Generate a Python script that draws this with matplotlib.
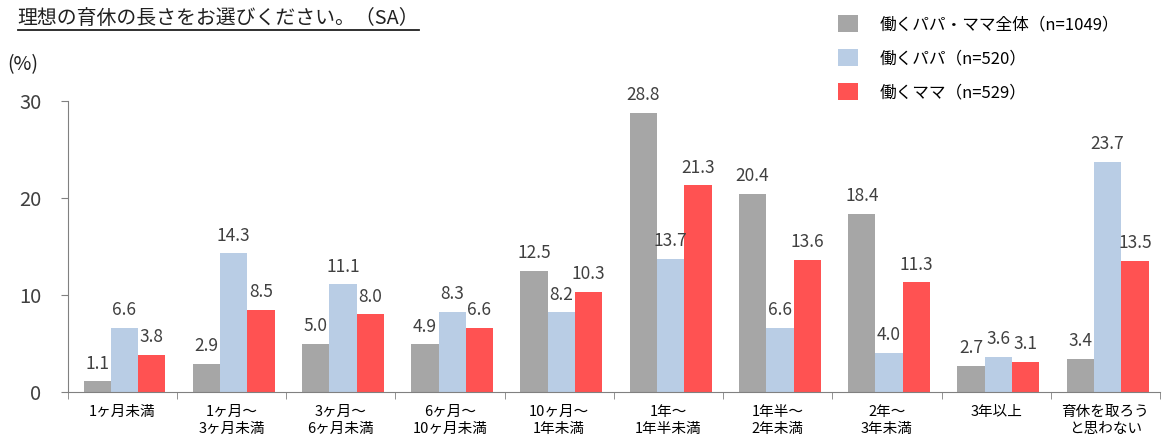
import numpy as np
import matplotlib.pyplot as plt
from matplotlib.lines import Line2D
from matplotlib.patches import Patch

plt.rcParams['font.family'] = ['Noto Sans CJK JP', 'DejaVu Sans']

categories = ['1ヶ月未満', '1ヶ月～\n3ヶ月未満', '3ヶ月～\n6ヶ月未満', '6ヶ月～\n10ヶ月未満',
              '10ヶ月～\n1年未満', '1年～\n1年半未満', '1年半～\n2年未満', '2年～\n3年未満',
              '3年以上', '育休を取ろう\nと思わない']
all_parents = [1.1, 2.9, 5.0, 4.9, 12.5, 28.8, 20.4, 18.4, 2.7, 3.4]
papa = [6.6, 14.3, 11.1, 8.3, 8.2, 13.7, 6.6, 4.0, 3.6, 23.7]
mama = [3.8, 8.5, 8.0, 6.6, 10.3, 21.3, 13.6, 11.3, 3.1, 13.5]
series_names = ['働くパパ・ママ全体（n=1049）', '働くパパ（n=520）', '働くママ（n=529）']
colors = ['#A6A6A6', '#B9CDE5', '#FF5252']

fig = plt.figure(figsize=(11.67, 4.47), dpi=100)
ax = fig.add_axes([0.058, 0.123, 0.936, 0.651])

x = np.arange(len(categories))
w = 0.25
for i, (vals, c) in enumerate(zip([all_parents, papa, mama], colors)):
    pos = x + (i - 1) * w + 0.02
    ax.bar(pos, vals, width=w, color=c)
    for p, v in zip(pos, vals):
        ax.text(p, v + 0.9, f'{v:.1f}', ha='center', va='bottom', fontsize=12.5, color='#404040')

ax.set_xlim(-0.5, len(categories) - 0.5)
ax.set_ylim(0, 30)
ax.set_yticks([0, 10, 20, 30])
ax.tick_params(axis='y', labelsize=14.5, colors='#808080', labelcolor='#404040', length=5, pad=14)
ax.set_xticks(x)
ax.set_xticklabels(categories, fontsize=10.5, linespacing=1.3)
ax.set_xticks(np.arange(len(categories) + 1) - 0.5, minor=True)
ax.tick_params(axis='x', which='major', length=0, pad=9)
ax.tick_params(axis='x', which='minor', length=5, colors='#808080')
for s in ['top', 'right']:
    ax.spines[s].set_visible(False)
for s in ['left', 'bottom']:
    ax.spines[s].set_color('#808080')

title = fig.text(0.015, 0.958, '理想の育休の長さをお選びください。（SA）', fontsize=14.3,
                 ha='left', va='center', color='#202020')
fig.text(0.006, 0.855, '(%)', fontsize=14, ha='left', va='center', color='#202020')

fig.canvas.draw()
bb = title.get_window_extent().transformed(fig.transFigure.inverted())
fig.add_artist(Line2D([bb.x0, bb.x1], [bb.y0 - 0.002, bb.y0 - 0.002], color='#202020', lw=1.3,
                      transform=fig.transFigure))

handles = [Patch(facecolor=c) for c in colors]
fig.legend(handles, series_names, loc='upper left', bbox_to_anchor=(0.705, 1.0), frameon=False,
           fontsize=12, handlelength=1.2, handleheight=1.2, labelspacing=0.95, handletextpad=1.3)

fig.savefig('out.png', dpi=100)
